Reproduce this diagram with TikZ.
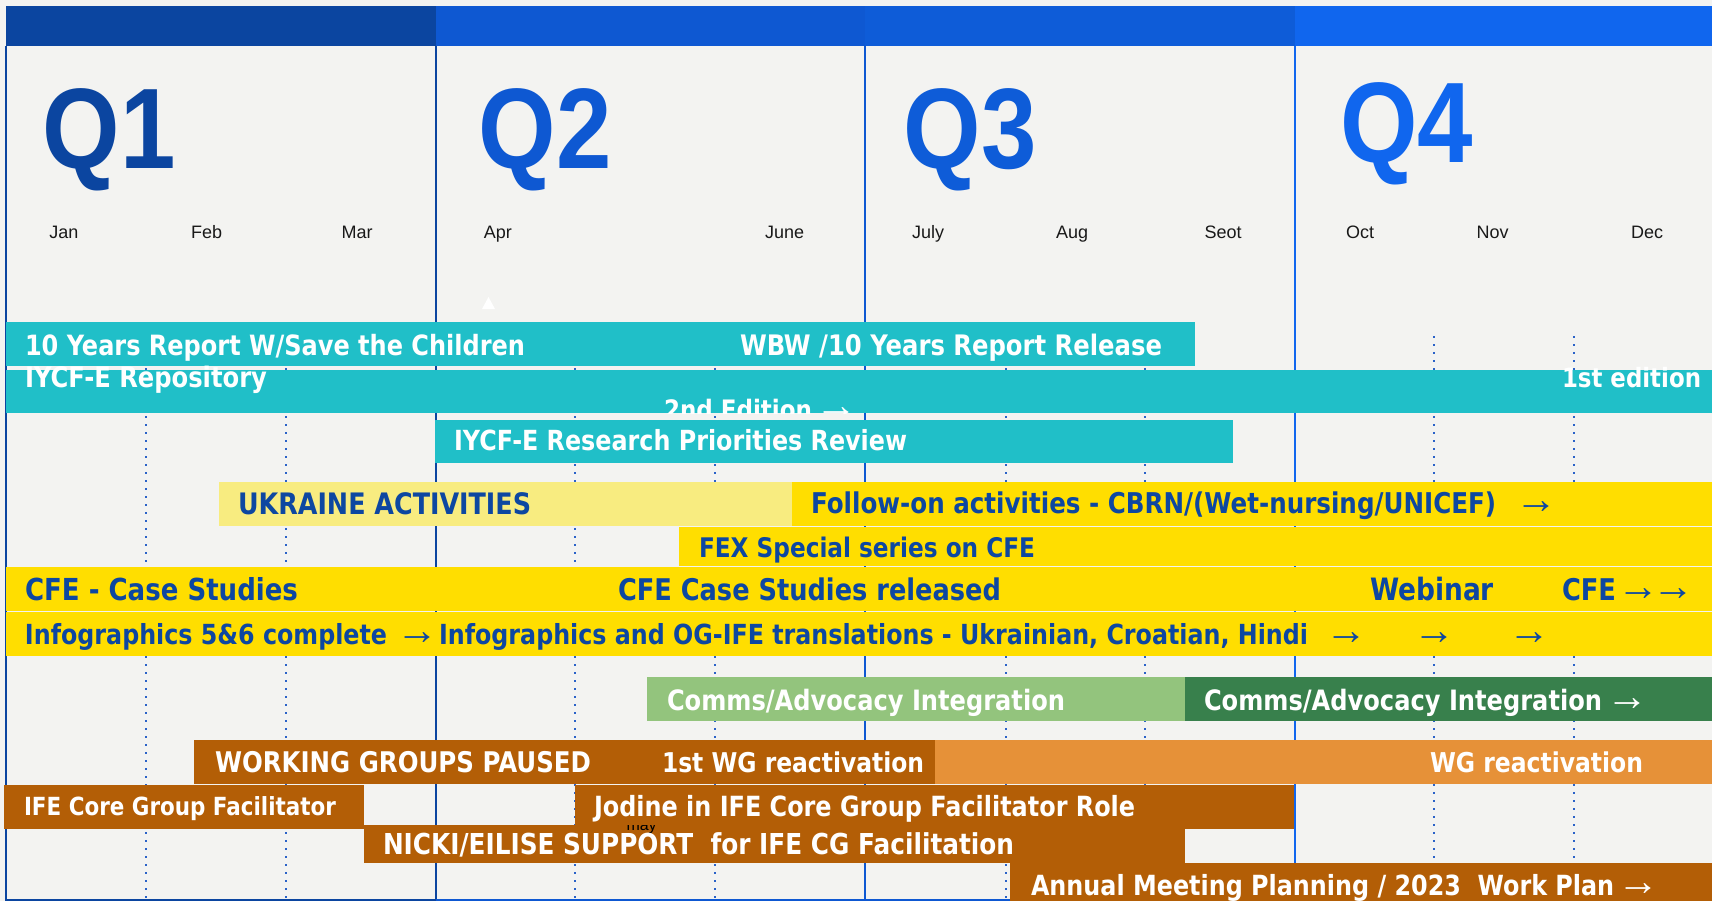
\documentclass[tikz,border=0pt]{standalone}
\usepackage{fontspec}
\usepackage{graphicx}
\newfontfamily\barfont{DejaVu Sans}[FakeStretch=0.86]
\newfontfamily\qfont{Liberation Sans}[FakeStretch=0.87]
\newfontfamily\mfont{Liberation Sans}
\newfontfamily\arrfont{Liberation Serif}
\definecolor{bg}{HTML}{F3F3F1}
\definecolor{qone}{HTML}{0B45A0}
\definecolor{qtwo}{HTML}{0E58D2}
\definecolor{qthree}{HTML}{0E5CD8}
\definecolor{qfour}{HTML}{1066EE}
\definecolor{dotblue}{HTML}{2A62C8}
\definecolor{tealbar}{HTML}{20BFC8}
\definecolor{lyellow}{HTML}{F8EC80}
\definecolor{ylwbar}{HTML}{FFDE00}
\definecolor{navy}{HTML}{0D47A1}
\definecolor{lgreen}{HTML}{93C47D}
\definecolor{dgreen}{HTML}{38804C}
\definecolor{brownbar}{HTML}{B35E06}
\definecolor{orangebar}{HTML}{E69138}
\newcommand\bt[2]{\resizebox{#1pt}{!}{\barfont\bfseries #2}}
\newcommand\arw[1]{\resizebox{#1pt}{!}{\arrfont →}}
\tikzset{
  txt/.style={anchor=base west, inner sep=0pt, outer sep=0pt},
  wt/.style={txt, text=white},
  nt/.style={txt, text=navy},
  qlab/.style={txt, font=\qfont\bfseries\fontsize{114.5}{120}\selectfont},
  mon/.style={txt, text=black!90, font=\mfont\fontsize{18}{20}\selectfont},
  dotline/.style={dotblue, line width=2pt, dash pattern=on 2pt off 6pt},
  divline/.style={line width=2pt},
}
\begin{document}
\begin{tikzpicture}[x=1pt,y=-1pt]
\useasboundingbox (0,0) rectangle (1712,901);
\fill[bg] (0,0) rectangle (1712,901);
% header
\fill[qone] (5.5,6) rectangle (436,45.7);
\fill[qtwo] (436,6) rectangle (865,45.7);
\fill[qthree] (865,6) rectangle (1295,45.7);
\fill[qfour] (1295,6) rectangle (1712,45.7);
% dotted month lines
\foreach \x in {146,286,575,715,1005.6,1144.7,1434,1574}
  \draw[dotline] (\x,336) -- (\x,899);
% borders and dividers
\draw[divline, qone] (6.3,45.7) -- (6.3,900);
\draw[divline, qone] (435.8,45.7) -- (435.8,900);
\draw[divline, qtwo] (865,45.7) -- (865,900);
\draw[divline, qfour] (1295,45.7) -- (1295,900);
\draw[divline, qone] (5.3,900) -- (436,900);
\draw[divline, qtwo] (436,900) -- (1712,900);
% quarter labels
\node[qlab, text=qone] (q1) at (42.5,169) {Q1};
\node[qlab, text=qtwo] (q2) at (478.7,169) {Q2};
\node[qlab, text=qthree] (q3) at (903.6,169) {Q3};
\node[qlab, text=qfour] (q4) at (1340,163) {Q4};
% months
\node[mon] (jan) at (49.4,239) {Jan};
\node[mon] (feb) at (191,239) {Feb};
\node[mon] (mar) at (341.7,239) {Mar};
\node[mon] (apr) at (483.8,239) {Apr};
\node[mon] (jun) at (765,239) {June};
\node[mon] (jul) at (912,239) {July};
\node[mon] (aug) at (1056,239) {Aug};
\node[mon] (sep) at (1204.6,239) {Seot};
\node[mon] (oct) at (1346,239) {Oct};
\node[mon] (nov) at (1476.7,239) {Nov};
\node[mon] (dec) at (1631,239) {Dec};
% small marker
\fill[white] (488.5,297) -- (482,309) -- (495,309) -- cycle;
% teal bars
\fill[tealbar] (5.5,322) rectangle (1194.5,366);
\node[wt] (t1) at (25,355) {\bt{500}{10 Years Report W/Save the Children}};
\node[wt] (t2) at (740,355) {\bt{422}{WBW /10 Years Report Release}};
\fill[tealbar] (5.5,370) rectangle (1712,413);
\node[wt] (t3) at (25,387) {\bt{242}{IYCF-E Repository}};
\node[wt] (t4) at (1562,387) {\bt{139}{1st edition}};
\begin{scope}
  \clip (5.5,370) rectangle (1712,413);
  \node[wt] (t5) at (664,419) {\bt{148}{2nd Edition}};
  \node[wt] (t5a) at (815,419) {\arw{42}};
\end{scope}
\fill[tealbar] (435,420) rectangle (1233,463);
\node[wt] (t6) at (454,450.7) {\bt{453}{IYCF-E Research Priorities Review}};
% yellow bars
\fill[lyellow] (219,482) rectangle (791.6,525.7);
\fill[ylwbar] (791.6,482) rectangle (1712,525.7);
\node[nt] (t7) at (238,514) {\bt{293}{UKRAINE ACTIVITIES}};
\node[nt] (t8) at (811,513) {\bt{685}{Follow-on activities - CBRN/(Wet-nursing/UNICEF)}};
\node[nt] (t8a) at (1515,513) {\arw{42}};
\fill[ylwbar] (679,527) rectangle (1712,565.7);
\node[nt] (t9) at (699,557) {\bt{336}{FEX Special series on CFE}};
\fill[ylwbar] (5.5,566.7) rectangle (1712,611);
\node[nt] (t10) at (25,600) {\bt{273}{CFE - Case Studies}};
\node[nt] (t11) at (618,600) {\bt{383}{CFE Case Studies released}};
\node[nt] (t12) at (1370,600) {\bt{124}{Webinar}};
\node[nt] (t13) at (1562,600) {\bt{54}{CFE}};
\node[nt] (t13a) at (1617.7,600) {\arw{42}};
\node[nt] (t13b) at (1652.7,600) {\arw{42}};
\fill[ylwbar] (5.5,612) rectangle (1712,655.7);
\node[nt] (t14) at (25,644) {\bt{362}{Infographics 5\&6 complete}};
\node[nt] (t14a) at (396,644) {\arw{42}};
\node[nt] (t14b) at (439,644) {\bt{869}{Infographics and OG-IFE translations - Ukrainian, Croatian, Hindi}};
\node[nt] (t14c) at (1325,644) {\arw{42}};
\node[nt] (t14d) at (1413.7,644) {\arw{42}};
\node[nt] (t14e) at (1508.7,644) {\arw{42}};
% green bars
\fill[lgreen] (647,677) rectangle (1184.5,720.7);
\fill[dgreen] (1184.5,677) rectangle (1712,720.7);
\node[wt] (t15) at (667,710) {\bt{398}{Comms/Advocacy Integration}};
\node[wt] (t16) at (1204,710) {\bt{398}{Comms/Advocacy Integration}};
\node[wt] (t16a) at (1606,710) {\arw{42}};
% brown / orange bars
\fill[brownbar] (194,740) rectangle (935,783.7);
\fill[orangebar] (935,740) rectangle (1712,783.7);
\node[wt] (t17) at (215,772.3) {\bt{376}{WORKING GROUPS PAUSED}};
\node[wt] (t18) at (662,772.3) {\bt{262}{1st WG reactivation}};
\node[wt] (t19) at (1430,772.3) {\bt{213}{WG reactivation}};
\fill[brownbar] (4,785) rectangle (363.7,828.7);
\node[wt] (t20) at (24,815.7) {\bt{312}{IFE Core Group Facilitator}};
\fill[brownbar] (575.4,785) rectangle (1294,828.7);
\node[wt] (t21) at (594,816) {\bt{541}{Jodine in IFE Core Group Facilitator Role}};
\fill[brownbar] (363.7,825) rectangle (1184.5,863);
\begin{scope}
  \clip (363.7,825) rectangle (1184.5,863);
  \node[txt, text=black, font=\mfont\fontsize{16}{18}\selectfont] (may) at (626.5,830) {may};
\end{scope}
\node[wt] (t22) at (383,854.3) {\bt{631}{NICKI/EILISE SUPPORT~~for IFE CG Facilitation}};
\fill[brownbar] (1010,863) rectangle (1712,901);
\node[wt] (t23) at (1031,895) {\bt{583}{Annual Meeting Planning / 2023~~Work Plan}};
\node[wt] (t23a) at (1617,895) {\arw{42}};
\end{tikzpicture}
\end{document}
